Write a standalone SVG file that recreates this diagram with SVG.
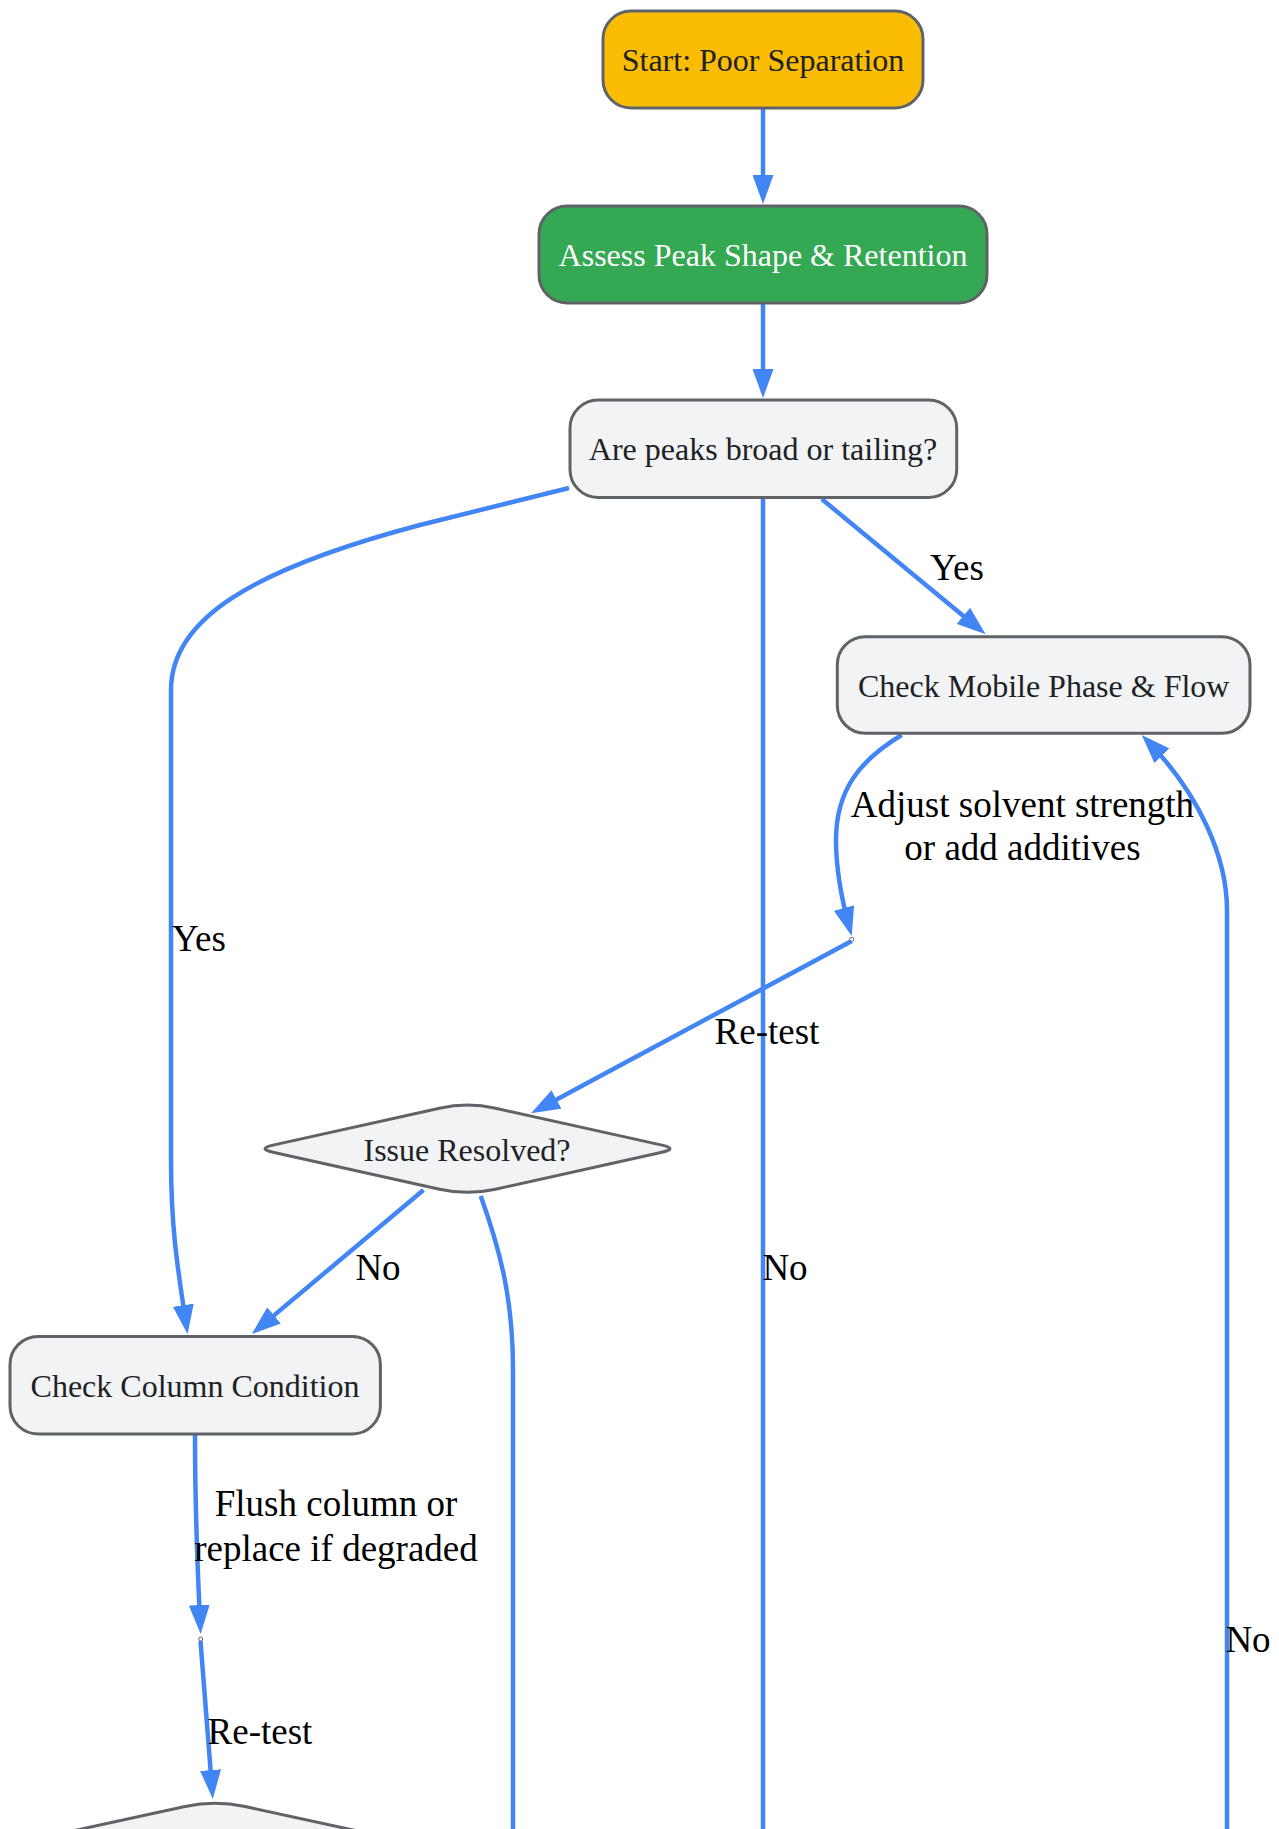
<svg xmlns="http://www.w3.org/2000/svg" width="1279" height="1829" viewBox="0 0 1279 1829">
<style>
.node rect,.node path{stroke:#5F6368;stroke-width:3}
.light{fill:#F1F3F4}
.nt{font-family:"Liberation Serif","Times New Roman",serif;font-size:32px;fill:#202124;text-anchor:middle}
.edge{fill:none;stroke:#4285F4;stroke-width:4.5}
.el{font-family:"Liberation Serif","Times New Roman",serif;font-size:37px;fill:#000;text-anchor:middle}
.dot{fill:#fff;stroke:#5F6368;stroke-width:1}
</style>
<defs>
<marker id="ah" markerUnits="userSpaceOnUse" markerWidth="29" markerHeight="21" viewBox="0 0 29 21" refX="21" refY="10.5" orient="auto">
<path d="M0,0 L29,10.5 L0,21 z" fill="#4285F4"/>
</marker>
</defs>
<rect width="1279" height="1829" fill="#fff"/>
<g id="connectors">
<path class="edge" d="M763,108 L763,196" marker-end="url(#ah)"/>
<path class="edge" d="M763,303 L763,390" marker-end="url(#ah)"/>
<path class="edge" d="M821.7,499 L979.5,629.2" marker-end="url(#ah)"/>
<path class="edge" d="M569,488 L420,525 C250,570 171,620 171,690 L171,1160 C171,1230 178,1270 186.4,1326" marker-end="url(#ah)"/>
<path class="edge" d="M763,498 L763,1829"/>
<path class="edge" d="M901.7,735 C860,760 836,790 836,840 C836,870 841.6,899.4 849.6,928.3" marker-end="url(#ah)"/>
<path class="edge" d="M851.7,941 L538,1109.4" marker-end="url(#ah)"/>
<path class="edge" d="M423.5,1190 L257.9,1328.9" marker-end="url(#ah)"/>
<path class="edge" d="M480.7,1196 C500.9,1252.4 513,1300 513,1370 L513,1829"/>
<path class="edge" d="M195,1434 C195,1520 198,1580 200.3,1626" marker-end="url(#ah)"/>
<path class="edge" d="M200.5,1641 L212.2,1791" marker-end="url(#ah)"/>
<path class="edge" d="M1227,1829 L1227,910 C1227,858 1200,795 1147.3,740.7" marker-end="url(#ah)"/>
<circle class="dot" cx="851.7" cy="939.3" r="2"/>
<circle class="dot" cx="200.7" cy="1639" r="2"/>
</g>
<g id="edge-labels">
<text class="el" x="957" y="580">Yes</text>
<text class="el" x="199" y="951">Yes</text>
<text class="el" x="785" y="1280">No</text>
<text class="el" x="1022.5" y="817">Adjust solvent strength</text>
<text class="el" x="1022.5" y="860">or add additives</text>
<text class="el" x="767" y="1044">Re-test</text>
<text class="el" x="378" y="1280">No</text>
<text class="el" x="336" y="1516">Flush column or</text>
<text class="el" x="336" y="1561">replace if degraded</text>
<text class="el" x="260" y="1744">Re-test</text>
<text class="el" x="1248" y="1652">No</text>
</g>
<g id="start" class="node">
<rect x="603" y="11" width="320" height="97" rx="28" fill="#FBBC04"/>
<text class="nt" x="763" y="71">Start: Poor Separation</text>
</g>
<g id="assess" class="node">
<rect x="539" y="206" width="448" height="97" rx="28" fill="#34A853"/>
<text class="nt" x="763" y="266" style="fill:#fff">Assess Peak Shape &amp; Retention</text>
</g>
<g id="peaks" class="node">
<rect x="570" y="400" width="386.7" height="97.5" rx="28" class="light"/>
<text class="nt" x="763" y="460">Are peaks broad or tailing?</text>
</g>
<g id="mobile" class="node">
<rect x="837.3" y="636.7" width="412.7" height="96.6" rx="28" class="light"/>
<text class="nt" x="1043.7" y="697">Check Mobile Phase &amp; Flow</text>
</g>
<g id="resolved1" class="node">
<path class="light" d="M439.5,1108.2 Q467.5,1102 495.5,1108.2 L662,1145.15 Q678,1148.7 662,1152.25 L495.5,1189.2 Q467.5,1195.4 439.5,1189.2 L273,1152.25 Q257,1148.7 273,1145.15 Z"/>
<text class="nt" x="467" y="1161">Issue Resolved?</text>
</g>
<g id="column" class="node">
<rect x="10" y="1336.4" width="370.4" height="97.6" rx="28" class="light"/>
<text class="nt" x="195" y="1397">Check Column Condition</text>
</g>
<g id="resolved2" class="node">
<path class="light" d="M185,1806.5 Q215,1800 245,1806.5 L429,1846.5 Q445,1850 429,1853.5 L245,1893.5 Q215,1900 185,1893.5 L1,1853.5 Q-15,1850 1,1846.5 Z"/>
</g>
</svg>
